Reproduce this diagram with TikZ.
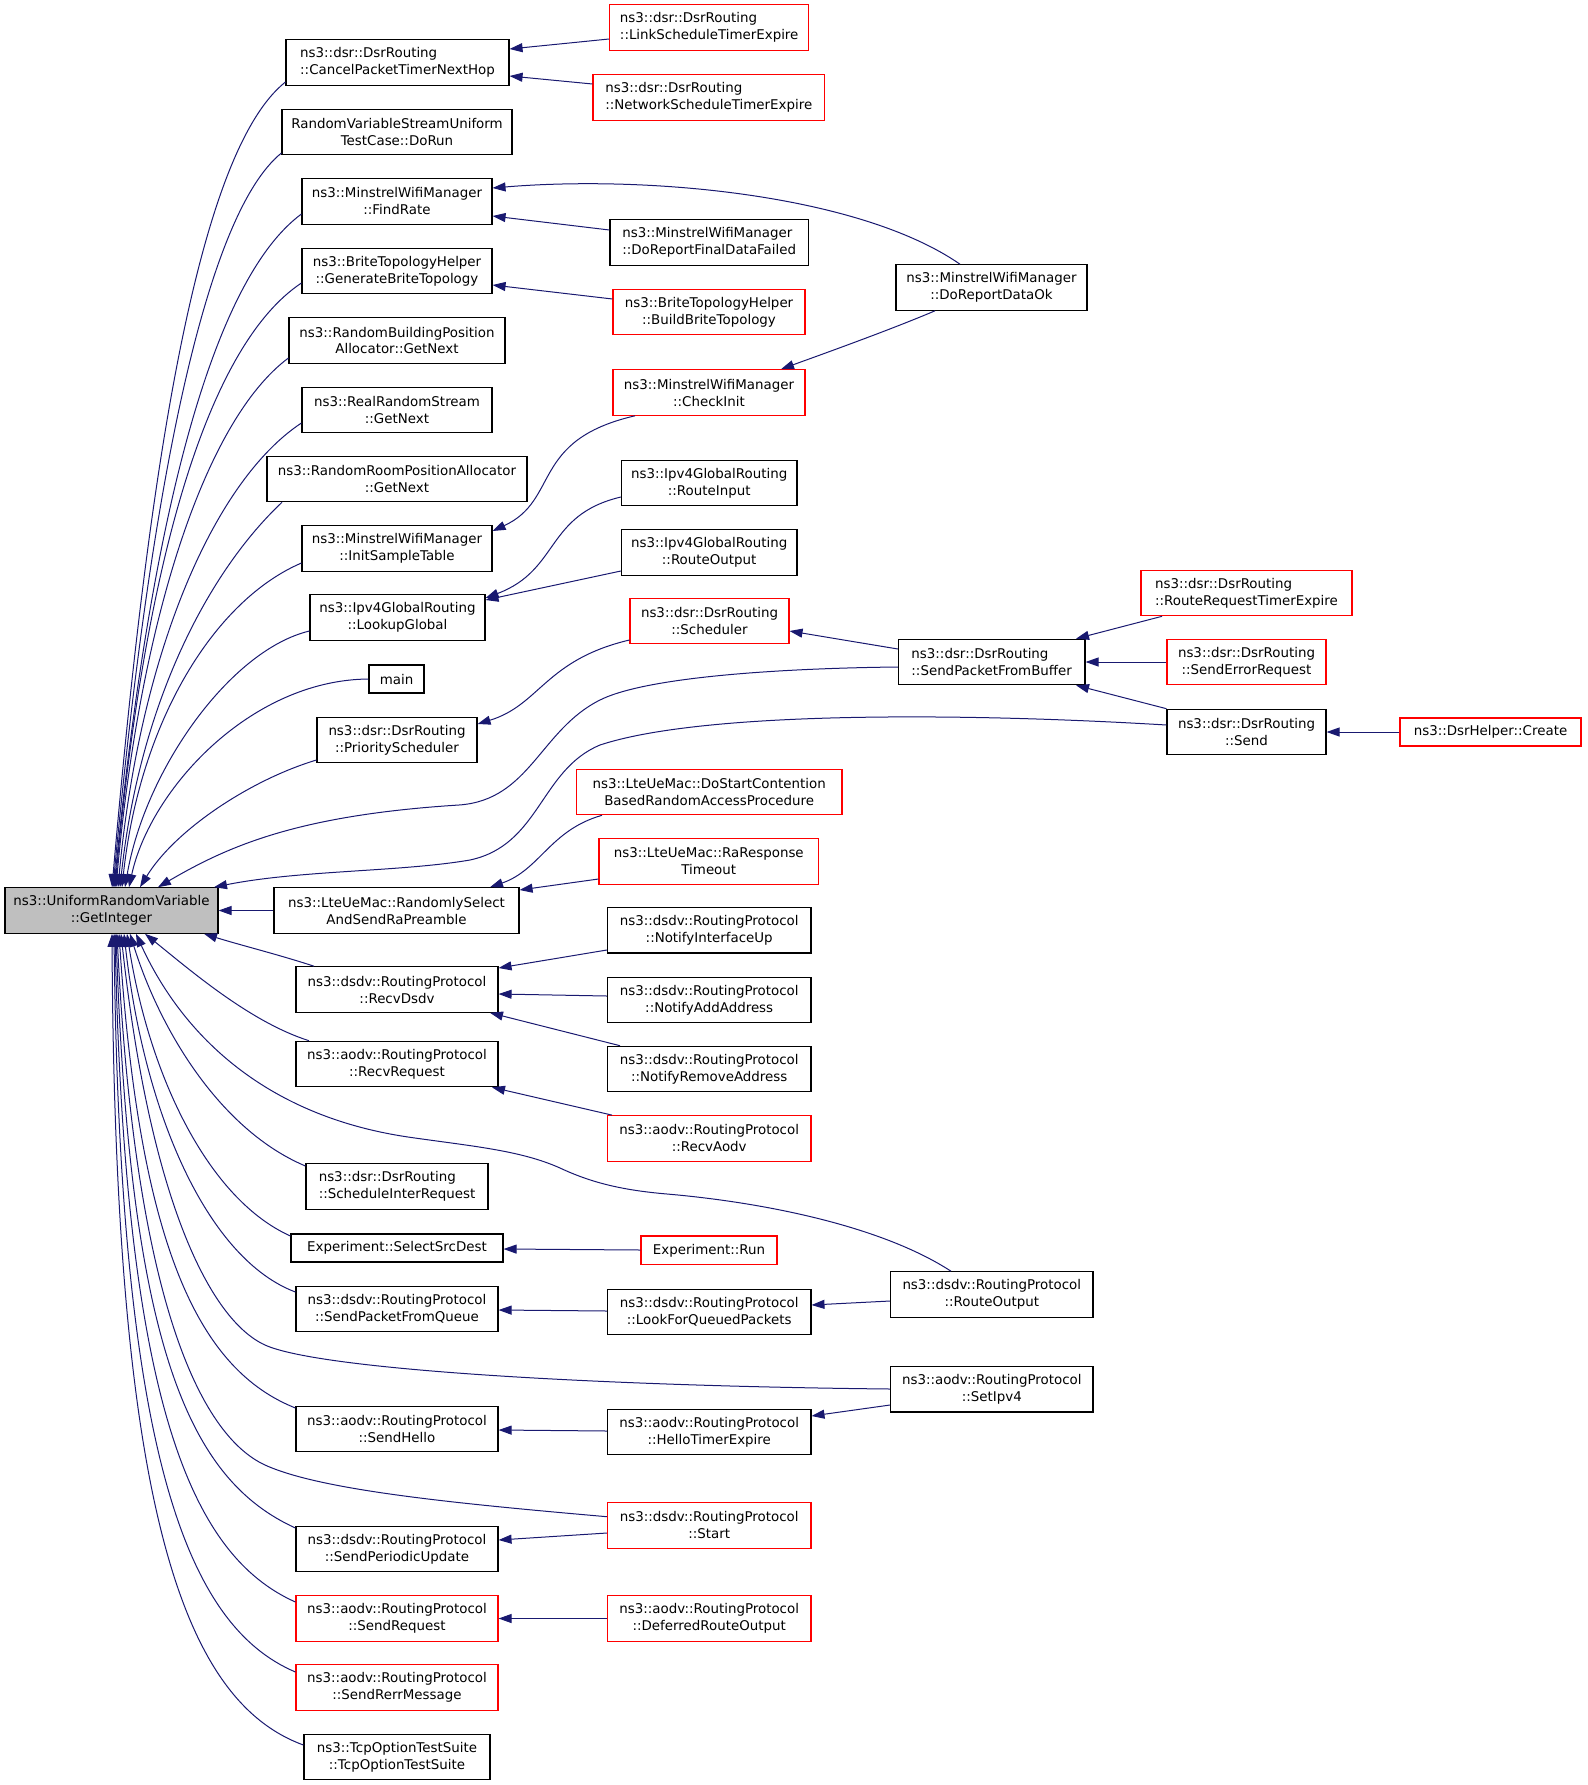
\documentclass[tikz,border=0pt]{standalone}
\usepackage{fontspec}
\setmainfont{DejaVu Sans}
\usetikzlibrary{arrows.meta}
\definecolor{edgeblue}{RGB}{25,25,112}
\definecolor{boxred}{RGB}{255,0,0}
\definecolor{rootgray}{RGB}{191,191,191}
\tikzset{
  box/.style={draw=black, fill=white, line width=1.1pt, inner sep=0pt, align=center, minimum height=45.5pt},
  redbox/.style={box, draw=boxred},
  rootbox/.style={box, fill=rootgray},
  calledge/.style={draw=edgeblue, line width=1pt, {Triangle[length=13pt,width=9pt]}-}
}
\begin{document}
\begin{tikzpicture}[x=1pt, y=-1pt, font=\fontsize{13.4pt}{17pt}\selectfont]
\useasboundingbox (0,0) rectangle (1587,1785);

% root
\node[rootbox, minimum width=213pt] (root) at (111.5,910.5) {ns3::UniformRandomVariable\\::GetInteger};

% column 1
\node[box, minimum width=223pt, align=left] (cpt) at (397.5,62.3) {ns3::dsr::DsrRouting\\::CancelPacketTimerNextHop};
\node[box, minimum width=230pt] (rvsu) at (397,132) {RandomVariableStreamUniform\\TestCase::DoRun};
\node[box, minimum width=190pt] (findrate) at (397,201.5) {ns3::MinstrelWifiManager\\::FindRate};
\node[box, minimum width=190pt] (genbrite) at (397,271) {ns3::BriteTopologyHelper\\::GenerateBriteTopology};
\node[box, minimum width=216pt] (rbpa) at (397,340.5) {ns3::RandomBuildingPosition\\Allocator::GetNext};
\node[box, minimum width=190pt] (rrs) at (397,410) {ns3::RealRandomStream\\::GetNext};
\node[box, minimum width=260pt] (rrpa) at (397,479) {ns3::RandomRoomPositionAllocator\\::GetNext};
\node[box, minimum width=190pt] (initst) at (397,548.5) {ns3::MinstrelWifiManager\\::InitSampleTable};
\node[box, minimum width=175pt] (lookup) at (397.5,617.5) {ns3::Ipv4GlobalRouting\\::LookupGlobal};
\node[box, minimum width=55pt, minimum height=28pt] (mainn) at (396.5,679) {main};
\node[box, minimum width=160pt] (prio) at (397,740) {ns3::dsr::DsrRouting\\::PriorityScheduler};
\node[box, minimum width=245pt] (rsel) at (396.5,910.5) {ns3::LteUeMac::RandomlySelect\\AndSendRaPreamble};
\node[box, minimum width=202pt] (recvdsdv) at (397,989.5) {ns3::dsdv::RoutingProtocol\\::RecvDsdv};
\node[box, minimum width=202pt] (recvreq) at (397,1064) {ns3::aodv::RoutingProtocol\\::RecvRequest};
\node[box, minimum width=182pt, align=left] (schedir) at (397,1186.5) {ns3::dsr::DsrRouting\\::ScheduleInterRequest};
\node[box, minimum width=212pt, minimum height=28pt] (selsd) at (397,1248) {Experiment::SelectSrcDest};
\node[box, minimum width=202pt] (spfq) at (397,1309) {ns3::dsdv::RoutingProtocol\\::SendPacketFromQueue};
\node[box, minimum width=202pt] (hello) at (397,1429) {ns3::aodv::RoutingProtocol\\::SendHello};
\node[box, minimum width=202pt] (periodic) at (397,1549) {ns3::dsdv::RoutingProtocol\\::SendPeriodicUpdate};
\node[redbox, minimum width=202pt] (sendreq) at (397,1618.5) {ns3::aodv::RoutingProtocol\\::SendRequest};
\node[redbox, minimum width=202pt] (rerr) at (397,1687.5) {ns3::aodv::RoutingProtocol\\::SendRerrMessage};
\node[box, minimum width=186pt] (tcp) at (397,1757) {ns3::TcpOptionTestSuite\\::TcpOptionTestSuite};

% column 2
\node[redbox, minimum width=199pt, align=left] (link) at (709.2,27.6) {ns3::dsr::DsrRouting\\::LinkScheduleTimerExpire};
\node[redbox, minimum width=231.6pt, align=left] (net) at (708.8,97.5) {ns3::dsr::DsrRouting\\::NetworkScheduleTimerExpire};
\node[box, minimum width=198.5pt, align=left] (dofail) at (709.2,242.5) {ns3::MinstrelWifiManager\\::DoReportFinalDataFailed};
\node[redbox, minimum width=192pt] (buildbrite) at (709,312) {ns3::BriteTopologyHelper\\::BuildBriteTopology};
\node[redbox, minimum width=192pt] (checkinit) at (709,392.5) {ns3::MinstrelWifiManager\\::CheckInit};
\node[box, minimum width=175.6pt] (rin) at (709.2,483) {ns3::Ipv4GlobalRouting\\::RouteInput};
\node[box, minimum width=175.6pt] (rout4) at (709.2,552.5) {ns3::Ipv4GlobalRouting\\::RouteOutput};
\node[redbox, minimum width=159pt] (sched) at (709.5,621) {ns3::dsr::DsrRouting\\::Scheduler};
\node[redbox, minimum width=265.6pt] (dostart) at (709.2,792) {ns3::LteUeMac::DoStartContention\\BasedRandomAccessProcedure};
\node[redbox, minimum width=219.6pt] (rarsp) at (708.8,861.3) {ns3::LteUeMac::RaResponse\\Timeout};
\node[box, minimum width=203.5pt] (nifup) at (709.2,930.2) {ns3::dsdv::RoutingProtocol\\::NotifyInterfaceUp};
\node[box, minimum width=203.5pt] (naddr) at (709.2,1000) {ns3::dsdv::RoutingProtocol\\::NotifyAddAddress};
\node[box, minimum width=203.5pt] (nrem) at (709.2,1069) {ns3::dsdv::RoutingProtocol\\::NotifyRemoveAddress};
\node[redbox, minimum width=203.5pt] (recvaodv) at (709.2,1138.4) {ns3::aodv::RoutingProtocol\\::RecvAodv};
\node[redbox, minimum width=136pt, minimum height=28.6pt] (exprun) at (709,1250.3) {Experiment::Run};
\node[box, minimum width=203.5pt] (lfqp) at (709.2,1312) {ns3::dsdv::RoutingProtocol\\::LookForQueuedPackets};
\node[box, minimum width=203.5pt] (hte) at (709.2,1432) {ns3::aodv::RoutingProtocol\\::HelloTimerExpire};
\node[redbox, minimum width=203.5pt] (start) at (709.2,1525.3) {ns3::dsdv::RoutingProtocol\\::Start};
\node[redbox, minimum width=203.5pt] (dro) at (709.2,1618.5) {ns3::aodv::RoutingProtocol\\::DeferredRouteOutput};

% column 3
\node[box, minimum width=191pt] (drok) at (991.5,287.5) {ns3::MinstrelWifiManager\\::DoReportDataOk};
\node[box, minimum width=186.6pt, align=left] (spfb) at (991.7,662) {ns3::dsr::DsrRouting\\::SendPacketFromBuffer};
\node[box, minimum width=202.3pt] (dsdvro) at (991.8,1294.5) {ns3::dsdv::RoutingProtocol\\::RouteOutput};
\node[box, minimum width=202.3pt] (setipv4) at (991.8,1389.2) {ns3::aodv::RoutingProtocol\\::SetIpv4};

% column 4
\node[redbox, minimum width=211pt, align=left] (rrte) at (1246.5,593) {ns3::dsr::DsrRouting\\::RouteRequestTimerExpire};
\node[redbox, minimum width=159pt] (serr) at (1246.5,662) {ns3::dsr::DsrRouting\\::SendErrorRequest};
\node[box, minimum width=159pt] (send) at (1246.5,732) {ns3::dsr::DsrRouting\\::Send};

% column 5
\node[redbox, minimum width=181pt, minimum height=28pt] (create) at (1490.5,732) {ns3::DsrHelper::Create};

% edges from root (upper)
\draw[calledge] (root.north -| 112,0) .. controls (150,450) and (200,150) .. (cpt.west |- 0,82);
\draw[calledge] (root.north -| 113,0) .. controls (150,490) and (205,215) .. (rvsu.west |- 0,153);
\draw[calledge] (root.north -| 114,0) .. controls (150,520) and (212,280) .. (findrate.west |- 0,214);
\draw[calledge] (root.north -| 115,0) .. controls (145,560) and (208,345) .. (genbrite.west |- 0,283);
\draw[calledge] (root.north -| 116,0) .. controls (140,620) and (205,420) .. (rbpa.west |- 0,358);
\draw[calledge] (root.north -| 118,0) .. controls (140,650) and (215,480) .. (rrs.west |- 0,423);
\draw[calledge] (root.north -| 120,0) .. controls (140,700) and (210,570) .. (rrpa.south -| 282,0);
\draw[calledge] (root.north -| 122,0) .. controls (140,720) and (215,600) .. (initst.west |- 0,563);
\draw[calledge] (root.north -| 125,0) .. controls (145,770) and (230,650) .. (lookup.west |- 0,631);
\draw[calledge] (root.north -| 129,0) .. controls (150,790) and (250,680) .. (mainn.west);
\draw[calledge] (root.north -| 140,0) .. controls (175,830) and (250,780) .. (prio.west |- 0,760);
\draw[calledge] (root.north -| 158,0) .. controls (230,845) and (300,815) .. (459,805)
   .. controls (530,800) and (540,730) .. (600,700) .. controls (650,675) and (800,668) .. (spfb.west |- 0,667);
\draw[calledge] (root.north -| 214,0) .. controls (300,870) and (400,872) .. (470,860)
   .. controls (540,845) and (540,770) .. (600,745) .. controls (700,712) and (950,712) .. (send.west |- 0,725);
\draw[calledge] (root.east) -- (rsel.west);

% edges from root (lower)
\draw[calledge] (root.south -| 204,0) .. controls (240,945) and (280,955) .. (recvdsdv.north -| 314,0);
\draw[calledge] (root.south -| 145,0) .. controls (190,970) and (250,1022) .. (recvreq.north -| 309,0);
\draw[calledge] (root.south -| 136,0) .. controls (180,1030) and (260,1115) .. (408,1137)
   .. controls (470,1146) and (520,1150) .. (560,1168) .. controls (590,1182) and (620,1190) .. (667,1194)
   .. controls (760,1202) and (880,1225) .. (dsdvro.north -| 951,0);
\draw[calledge] (root.south -| 130,0) .. controls (160,1030) and (220,1130) .. (schedir.west |- 0,1166);
\draw[calledge] (root.south -| 127,0) .. controls (150,1080) and (210,1200) .. (selsd.west |- 0,1236);
\draw[calledge] (root.south -| 124,0) .. controls (145,1120) and (210,1260) .. (spfq.west |- 0,1292);
\draw[calledge] (root.south -| 121,0) .. controls (150,1200) and (210,1320) .. (265,1345)
   .. controls (320,1370) and (600,1386) .. (setipv4.west |- 0,1389);
\draw[calledge] (root.south -| 119,0) .. controls (140,1250) and (200,1370) .. (hello.west |- 0,1408);
\draw[calledge] (root.south -| 117,0) .. controls (135,1300) and (200,1435) .. (265,1465)
   .. controls (320,1490) and (450,1503) .. (start.west |- 0,1516.7);
\draw[calledge] (root.south -| 116,0) .. controls (130,1350) and (190,1480) .. (periodic.west |- 0,1528);
\draw[calledge] (root.south -| 115,0) .. controls (125,1400) and (190,1555) .. (sendreq.west |- 0,1602);
\draw[calledge] (root.south -| 114,0) .. controls (120,1450) and (185,1625) .. (rerr.west |- 0,1672);
\draw[calledge] (root.south -| 112,0) .. controls (115,1500) and (180,1700) .. (tcp.west |- 0,1745);

% other edges
\draw[calledge] (cpt.east |- 0,49) -- (link.west |- 0,39);
\draw[calledge] (cpt.east |- 0,76) -- (net.west |- 0,84);
\draw[calledge] (findrate.east |- 0,188) .. controls (650,175) and (860,195) .. (drok.north -| 960,0);
\draw[calledge] (findrate.east |- 0,216) -- (dofail.west |- 0,230);
\draw[calledge] (genbrite.east |- 0,285) -- (buildbrite.west |- 0,299);
\draw[calledge] (checkinit.north -| 781,0) .. controls (820,355) and (890,330) .. (drok.south -| 935,0);
\draw[calledge] (initst.east |- 0,531) .. controls (560,500) and (530,440) .. (checkinit.south -| 635,0);
\draw[calledge] (lookup.east |- 0,598) .. controls (560,570) and (545,515) .. (rin.west |- 0,497);
\draw[calledge] (lookup.east |- 0,600) -- (rout4.west |- 0,571);
\draw[calledge] (prio.east |- 0,724) .. controls (540,705) and (545,660) .. (sched.west |- 0,640);
\draw[calledge] (sched.east |- 0,631) -- (spfb.west |- 0,649);
\draw[calledge] (spfb.north -| 1076,0) -- (rrte.south -| 1162,0);
\draw[calledge] (spfb.east) -- (serr.west);
\draw[calledge] (spfb.south -| 1076,0) -- (send.north west);
\draw[calledge] (send.east) -- (create.west);
\draw[calledge] (rsel.north -| 490,0) .. controls (540,870) and (550,830) .. (dostart.south -| 602,0);
\draw[calledge] (rsel.east |- 0,890) -- (rarsp.west |- 0,879);
\draw[calledge] (recvdsdv.east |- 0,968) -- (nifup.west |- 0,950);
\draw[calledge] (recvdsdv.east |- 0,994) -- (naddr.west |- 0,996);
\draw[calledge] (recvdsdv.south -| 490,0) -- (nrem.north -| 620,0);
\draw[calledge] (recvreq.south -| 492,0) -- (recvaodv.north -| 612,0);
\draw[calledge] (selsd.east |- 0,1249) -- (exprun.west |- 0,1250);
\draw[calledge] (spfq.east |- 0,1310) -- (lfqp.west |- 0,1311);
\draw[calledge] (lfqp.east |- 0,1305) -- (dsdvro.west |- 0,1301);
\draw[calledge] (hello.east |- 0,1430) -- (hte.west |- 0,1431);
\draw[calledge] (hte.east |- 0,1416) -- (setipv4.west |- 0,1405);
\draw[calledge] (periodic.east |- 0,1540) -- (start.west |- 0,1533);
\draw[calledge] (sendreq.east) -- (dro.west);
\end{tikzpicture}
\end{document}
